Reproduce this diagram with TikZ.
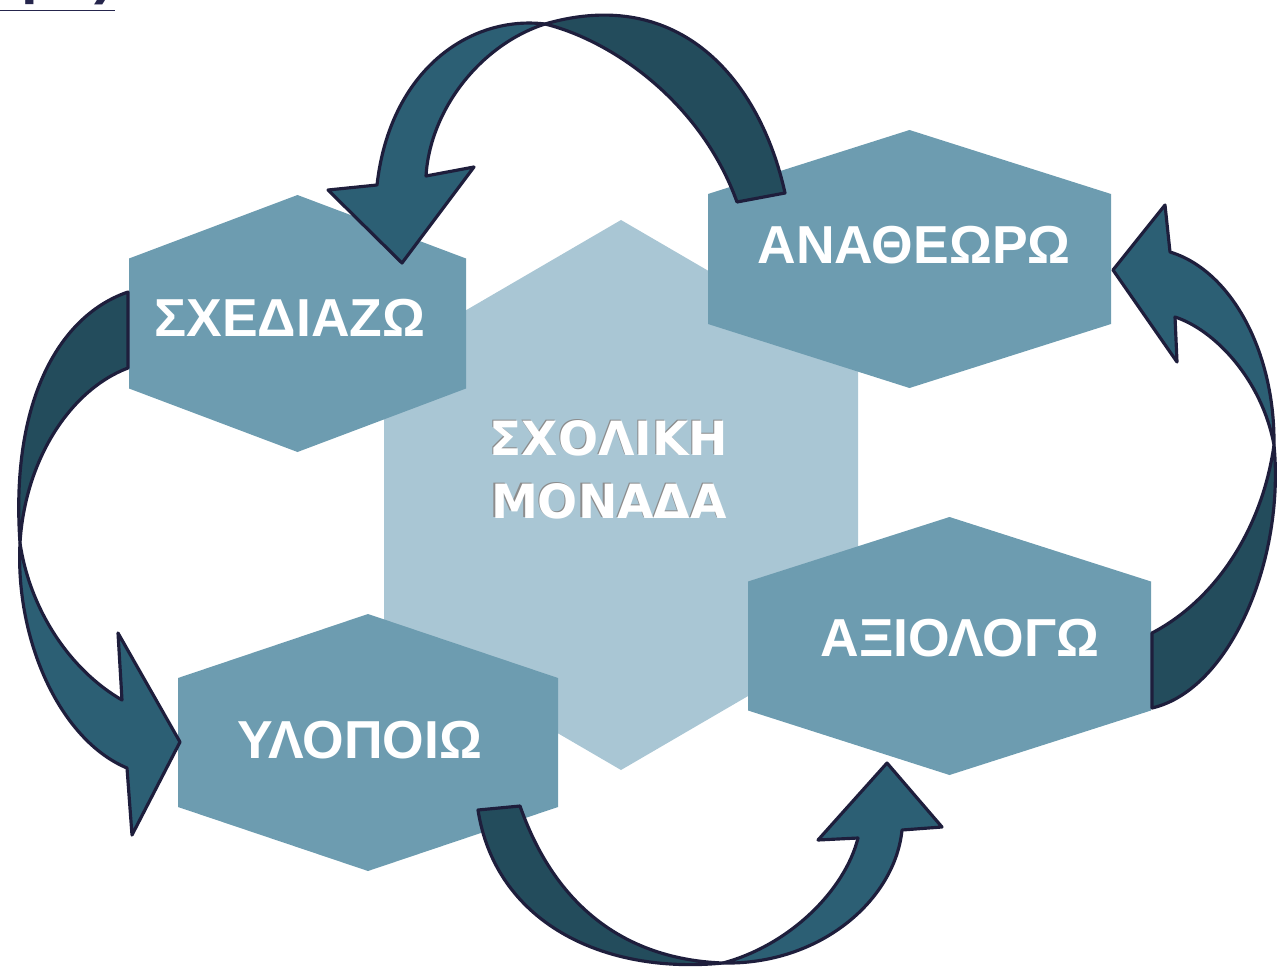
\documentclass[tikz,border=0pt]{standalone}
\usepackage{fontspec}
\newfontfamily\labelfont{Liberation Sans}
\newfontfamily\unitfont{DejaVu Sans}

\definecolor{cellblue}{HTML}{6D9CB0}
\definecolor{unitblue}{HTML}{A9C6D4}
\definecolor{tailblue}{HTML}{234C5C}
\definecolor{headblue}{HTML}{2C5F74}
\definecolor{inkline}{HTML}{1E1E3C}
\definecolor{shadegray}{HTML}{8C8C8C}
\definecolor{titlenavy}{HTML}{25254C}

\tikzset{
    cell/.style={fill=cellblue},
    unitcell/.style={fill=unitblue},
    hexlabel/.style={text=white, inner sep=0pt, font=\labelfont\bfseries\fontsize{15.2}{17}\selectfont},
    unitlabel/.style={inner sep=0pt, align=center, font=\unitfont\bfseries\fontsize{13.4}{18.1}\selectfont},
    tailband/.style={fill=tailblue, draw=inkline, line width=0.9pt, line join=round},
    headband/.style={fill=headblue, draw=inkline, line width=0.9pt, line join=round},
}

\newcommand{\hexcell}[5][cell]{\fill[#1, shift={(#2)}] (-#3,-#5) -- (0,-#4) -- (#3,-#5) -- (#3,#5) -- (0,#4) -- (-#3,#5) -- cycle;}

\begin{document}
\begin{tikzpicture}[x=0.01cm, y=-0.01cm]
    \useasboundingbox (0,0) rectangle (1282,973);

    \node[anchor=base east, text=titlenavy, font=\labelfont\bfseries\fontsize{17}{19}\selectfont] (title) at (127,-7) {\underline{σμό)}};
    \node[anchor=base east, font=\labelfont\fontsize{16}{18}\selectfont] (cut) at (10,528) {ς};

    \hexcell[unitcell]{621,495}{237}{275}{137}
    \hexcell{297.5,323.5}{168.5}{128.5}{65}
    \hexcell{909.5,259}{201.5}{129}{65}
    \hexcell{949.5,646}{201.5}{129}{64.5}
    \hexcell{368,742.5}{190}{128.5}{64.5}

    \node[unitlabel, text=shadegray] (unitshade) at (607.8,469) {ΣΧΟΛΙΚΗ\\ΜΟΝΑΔΑ};
    \node[unitlabel, text=white] (unit) at (609,470) {ΣΧΟΛΙΚΗ\\ΜΟΝΑΔΑ};

    \node[hexlabel] (plan) at (290,318) {ΣΧΕΔΙΑΖΩ};
    \node[hexlabel] (review) at (914,245) {ΑΝΑΘΕΩΡΩ};
    \node[hexlabel] (assess) at (960,638) {ΑΞΙΟΛΟΓΩ};
    \node[hexlabel] (apply) at (360,740) {ΥΛΟΠΟΙΩ};

    % review -> plan
    \draw[tailband] (737,202) -- (785,193) .. controls (760,80) and (680,-15) .. (545,24)
        .. controls (610,40) and (700,100) .. (737,202) -- cycle;
    \draw[headband] (545,24) .. controls (470,15) and (390,70) .. (377,185) -- (328,190)
        -- (402,263) -- (474,167) -- (426,176) .. controls (430,110) and (480,45) .. (545,24) -- cycle;

    % plan -> apply
    \draw[tailband] (128,368) -- (128,292) .. controls (60,315) and (10,400) .. (20,543)
        .. controls (25,460) and (70,390) .. (128,368) -- cycle;
    \draw[headband] (20,543) .. controls (15,640) and (60,740) .. (127,768) -- (132,835)
        -- (180,742) -- (118,633) -- (122,700) .. controls (70,670) and (30,610) .. (20,543) -- cycle;

    % apply -> assess
    \draw[tailband] (520,806) -- (478,810) .. controls (495,920) and (600,975) .. (723,963)
        .. controls (640,960) and (560,920) .. (520,806) -- cycle;
    \draw[headband] (723,963) .. controls (820,965) and (895,900) .. (902,830) -- (942,827)
        -- (887,763) -- (818,840) -- (858,838) .. controls (845,890) and (790,945) .. (723,963) -- cycle;

    % assess -> review
    \draw[tailband] (1152,633) -- (1152,708) .. controls (1230,690) and (1285,560) .. (1274,445)
        .. controls (1262,530) and (1215,600) .. (1152,633) -- cycle;
    \draw[headband] (1274,445) .. controls (1275,350) and (1230,270) .. (1170,252) -- (1165,205)
        -- (1113,270) -- (1177,362) -- (1175,317) .. controls (1215,330) and (1262,380) .. (1274,445) -- cycle;
\end{tikzpicture}
\end{document}
